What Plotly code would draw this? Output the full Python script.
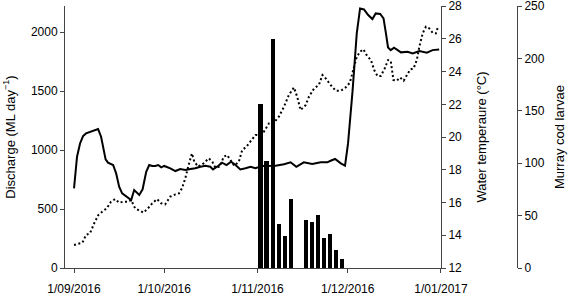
import pandas as pd
import plotly.graph_objects as go

start = pd.Timestamp("2016-09-01")

# Discharge (ML/day), days since 1 Sep 2016
discharge_day = [0, 1, 2, 3, 4, 5.5, 7, 8, 9, 10, 10.5, 11.3, 13, 14, 15, 16, 17.5, 19, 20, 21.7,
                 22.8, 24, 25, 26, 27, 28, 29, 30, 32, 33.7, 35.3, 37, 38.7, 40.3, 42, 43.7, 45.3,
                 46.2, 48, 49.2, 50.7, 52.2, 53.7, 55.3, 57, 58.7, 60.3, 62.6, 67, 69.8, 72, 73.9,
                 76.4, 79.2, 82, 84.2, 85.3, 86.8, 88.7, 90.1, 91.1, 92.6, 94, 95.1, 96.4, 97.8,
                 99.2, 100.3, 101.8, 102.9, 103.7, 104.4, 105.3, 106.4, 108.7, 110.9, 112.6, 114.8,
                 117.3, 119.2, 121.4]
discharge_mld = [675, 943, 1056, 1119, 1141, 1155, 1164, 1178, 1113, 1000, 921, 893, 873, 802, 689,
                 633, 604, 576, 661, 619, 667, 816, 873, 865, 865, 873, 853, 865, 845, 822, 839, 831,
                 839, 845, 858, 867, 858, 836, 867, 893, 873, 901, 873, 836, 845, 858, 845, 864, 867,
                 879, 896, 858, 896, 881, 896, 896, 909, 924, 887, 867, 1056, 1500, 1989, 2200, 2192,
                 2144, 2110, 2158, 2153, 2116, 1989, 1870, 1847, 1867, 1828, 1833, 1819, 1839, 1825,
                 1847, 1853]

# Water temperature (deg C)
temp_day = [0, 1.5, 2.8, 4, 5.3, 6.8, 8.1, 9.4, 10.9, 12.3, 13.7, 15, 16.4, 17.9, 19, 20.3, 21.7,
            23.1, 24.6, 26, 27.6, 29, 30.3, 32, 33.7, 34.9, 35.9, 37, 38.1, 39.2, 40, 41.3, 43.1,
            44.8, 46, 47, 48.4, 49.8, 50.9, 52, 53.3, 54.8, 55.9, 57.3, 58.7, 60.3, 61.4, 63.1,
            64.8, 66.2, 68.1, 69.8, 71.4, 73.1, 74.2, 75.3, 77, 78.1, 79.8, 81.4, 82.6, 83.7, 85.3,
            87, 88.7, 90.3, 91.7, 92.8, 94, 95.1, 96.2, 97.3, 98.7, 99.8, 100.9, 102, 103.3, 104.4,
            105.3, 106.2, 107.3, 108.4, 109.6, 110.7, 111.8, 112.9, 114, 114.8, 115.9, 117, 118.1,
            119.2, 120.3, 121.1]
temp_c = [13.40, 13.47, 13.55, 14.02, 14.12, 14.77, 15.24, 15.44, 15.65, 16.05, 16.21, 15.99, 16.05,
          16.05, 16.15, 15.65, 15.50, 15.38, 15.65, 15.95, 16.21, 15.95, 15.89, 16.36, 16.5, 16.56,
          16.87, 17.48, 18.29, 19.0, 18.49, 18.19, 18.39, 18.7, 18.49, 18.13, 18.19, 18.8, 18.9,
          18.6, 18.25, 18.49, 19.2, 19.41, 19.71, 20.12, 20.12, 20.32, 20.83, 20.83, 21.24, 21.85,
          22.56, 23.03, 22.46, 21.65, 21.95, 22.46, 22.97, 23.18, 23.79, 23.58, 23.18, 22.83, 22.83,
          23.03, 23.32, 24.0, 24.9, 25.21, 25.36, 25.0, 24.7, 24.09, 23.73, 23.73, 24.19, 24.7,
          24.65, 23.48, 23.44, 23.64, 23.44, 23.79, 24.13, 24.19, 24.74, 25.51, 26.33, 26.74, 26.64,
          26.37, 26.33, 26.78]

# Murray cod larvae
larvae_dates = ["2016-11-02", "2016-11-04", "2016-11-06", "2016-11-08", "2016-11-10", "2016-11-12",
                "2016-11-17", "2016-11-19", "2016-11-21", "2016-11-23", "2016-11-25", "2016-11-27",
                "2016-11-29"]
larvae_count = [157, 102, 219, 42, 31, 66, 46, 44, 51, 29, 32, 17, 9]

tick_dates = ["2016-09-01", "2016-10-01", "2016-11-01", "2016-12-01", "2017-01-01"]
tick_labels = ["1/09/2016", "1/10/2016", "1/11/2016", "1/12/2016", "1/01/2017"]

to_date = lambda d: start + pd.to_timedelta(d, unit="D")
font = "Arial, Liberation Sans, Helvetica, sans-serif"

fig = go.Figure()
fig.add_trace(go.Bar(x=pd.to_datetime(larvae_dates), y=larvae_count, yaxis="y3",
                     marker=dict(color="black", line=dict(width=0)),
                     width=1.35 * 86400000, showlegend=False))
fig.add_trace(go.Scatter(x=[to_date(d) for d in discharge_day], y=discharge_mld, mode="lines",
                         line=dict(color="black", width=2), yaxis="y", showlegend=False))
fig.add_trace(go.Scatter(x=[to_date(d) for d in temp_day], y=temp_c, mode="lines",
                         line=dict(color="black", width=2, dash="2px,2.5px"), yaxis="y2",
                         showlegend=False))

axis_common = dict(showgrid=False, zeroline=False, showline=True, linecolor="#444",
                   linewidth=1, ticks="outside", ticklen=4, tickcolor="#444",
                   automargin=False, ticklabeloverflow="allow",
                   tickfont=dict(size=12, color="black", family=font))

fig.update_layout(
    width=571, height=295,
    margin=dict(l=65, r=54, t=6, b=27),
    paper_bgcolor="white", plot_bgcolor="white",
    font=dict(family=font, color="black", size=12),
    bargap=0,
    xaxis=dict(domain=[0, 376 / 452], range=["2016-08-29", "2017-01-01 00:10"],
               tickvals=pd.to_datetime(tick_dates), ticktext=tick_labels,
               ticklabelstandoff=6, **axis_common),
    yaxis=dict(range=[0, 2221], tickvals=[0, 500, 1000, 1500, 2000],
               title=dict(text="Discharge (ML day<sup>−1</sup>)", font=dict(size=13), standoff=12),
               **axis_common),
    yaxis2=dict(range=[12, 28.005], tickvals=list(range(12, 29, 2)), overlaying="y", side="right",
                anchor="x",
                title=dict(text="Water temperaure (°C)", font=dict(size=13), standoff=15),
                **axis_common),
    yaxis3=dict(range=[0, 250.05], tickvals=[0, 50, 100, 150, 200, 250], overlaying="y",
                side="right", anchor="free", position=1,
                title=dict(text="Murray cod larvae", font=dict(size=13), standoff=11),
                **axis_common),
)

fig.write_html("out.html", post_script="document.body.style.margin='0';",
               config={"displayModeBar": False})
